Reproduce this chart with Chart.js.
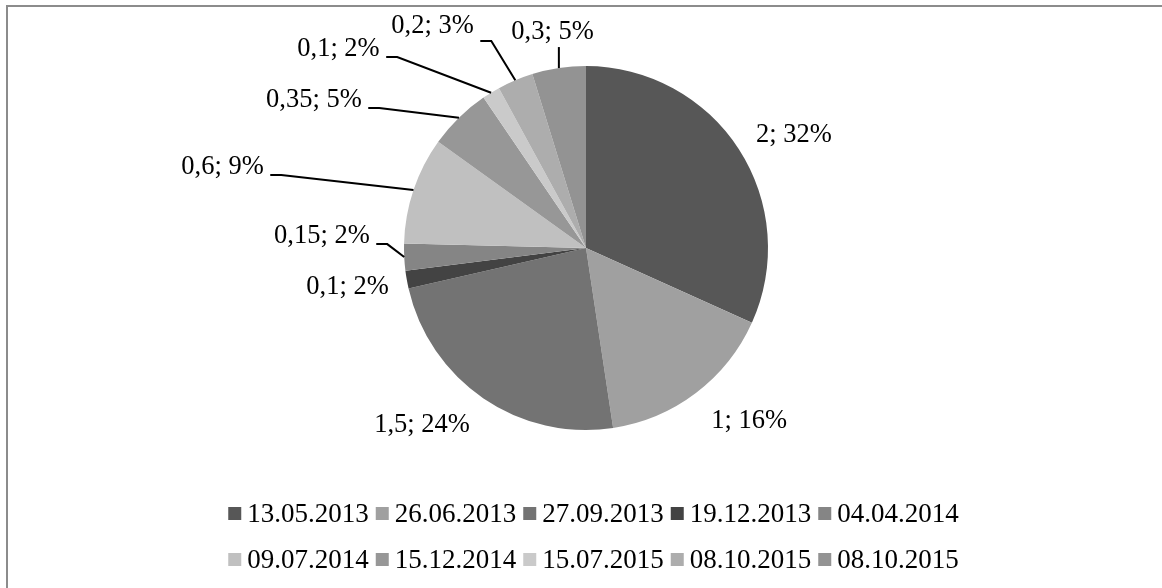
<!DOCTYPE html>
<html><head><meta charset="utf-8">
<script src="https://cdn.jsdelivr.net/npm/chart.js@4/dist/chart.umd.min.js"></script>
<style>
html,body{margin:0;padding:0;background:#fff;overflow:hidden;width:1162px;height:588px;}
#frame{position:absolute;left:6px;top:5px;width:1220px;height:640px;border:2px solid #8c8c8c;box-sizing:border-box;}
#wrap{position:absolute;left:0;top:0;width:1162px;height:588px;}
</style></head><body>
<div id="frame"></div>
<div id="wrap"><canvas id="c" width="1162" height="588"></canvas></div>
<script>
// ---- data ----
const categories = ['13.05.2013','26.06.2013','27.09.2013','19.12.2013','04.04.2014',
                    '09.07.2014','15.12.2014','15.07.2015','08.10.2015','08.10.2015'];
const values = [2, 1, 1.5, 0.1, 0.15, 0.6, 0.35, 0.1, 0.2, 0.3];
const percentLabels = ['32%','16%','24%','2%','2%','9%','5%','2%','3%','5%'];

// ---- styling / layout (not data) ----
const sliceColors = ['#575757','#a0a0a0','#737373','#434343','#858585',
                     '#c0c0c0','#979797','#cacaca','#adadad','#939393'];
// label centre (x) and baseline (y) relative to pie centre, in radius units
const labelPlacement = [[1.143,-0.582],[0.896,0.989],[-0.901,1.011],[-1.310,0.253],[-1.451,-0.027],
                        [-1.997,-0.407],[-1.495,-0.775],[-1.360,-1.055],[-0.843,-1.181],[-0.184,-1.148]];
// 0 none, 1 elbow at baseline, 2 elbow at box bottom, 3 vertical down
const leaderKind = [0,0,0,0,1,1,1,1,2,3];
const LABEL_FONT = '26.5px "Liberation Serif", "Times New Roman", serif';
const LEGEND_FONT = '27px "Liberation Serif", "Times New Roman", serif';

const fmt = v => String(v).replace('.', ',');

const labelPlugin = {
  id: 'sliceLabels',
  afterDatasetsDraw(chart) {
    const ctx = chart.ctx;
    const meta = chart.getDatasetMeta(0);
    ctx.save();
    ctx.font = LABEL_FONT;
    ctx.fillStyle = '#000';
    ctx.strokeStyle = '#000';
    ctx.lineWidth = 2;
    ctx.textAlign = 'center';
    ctx.textBaseline = 'alphabetic';
    meta.data.forEach((arc, i) => {
      const p = arc.getProps(['x','y','startAngle','endAngle','outerRadius'], true);
      const mid = (p.startAngle + p.endAngle) / 2;
      const px = p.x + Math.cos(mid) * p.outerRadius;
      const py = p.y + Math.sin(mid) * p.outerRadius;
      const text = fmt(values[i]) + '; ' + percentLabels[i];
      const tx = p.x + labelPlacement[i][0] * p.outerRadius;
      const ty = p.y + labelPlacement[i][1] * p.outerRadius;
      ctx.fillText(text, tx, ty);
      const w = ctx.measureText(text).width;
      const k = leaderKind[i];
      if (k === 1 || k === 2) {
        const sx = tx + w / 2 + 6.5;
        const sy = ty + (k === 1 ? 1 : 8);
        ctx.beginPath();
        ctx.moveTo(sx, sy);
        ctx.lineTo(sx + 11, sy);
        ctx.lineTo(px, py);
        ctx.stroke();
      } else if (k === 3) {
        ctx.beginPath();
        ctx.moveTo(px, ty + 8);
        ctx.lineTo(px, py);
        ctx.stroke();
      }
    });
    ctx.restore();
  }
};

const legendPlugin = {
  id: 'rowLegend',
  afterDraw(chart) {
    const ctx = chart.ctx;
    const items = chart.options.plugins.legend.labels.generateLabels(chart);
    const perRow = 5, box = 13, gapBox = 6, gapItem = 7, centerX = 593.5;
    const baselines = [522, 568];
    ctx.save();
    ctx.font = LEGEND_FONT;
    ctx.textAlign = 'left';
    ctx.textBaseline = 'alphabetic';
    for (let r = 0; r * perRow < items.length; r++) {
      const row = items.slice(r * perRow, r * perRow + perRow);
      const widths = row.map(it => box + gapBox + ctx.measureText(it.text).width);
      const total = widths.reduce((a, b) => a + b, 0) + gapItem * (row.length - 1);
      let x = centerX - total / 2;
      const bl = baselines[r];
      row.forEach((it, j) => {
        ctx.fillStyle = it.fillStyle;
        ctx.fillRect(x, bl - 15, box, box);
        ctx.fillStyle = '#000';
        ctx.fillText(it.text, x + box + gapBox, bl);
        x += widths[j] + gapItem;
      });
    }
    ctx.restore();
  }
};

new Chart(document.getElementById('c'), {
  type: 'pie',
  data: {
    labels: categories,
    datasets: [{ data: values, backgroundColor: sliceColors, borderWidth: 0 }]
  },
  options: {
    responsive: false,
    animation: false,
    layout: { padding: { top: 66, bottom: 158, left: 10, right: 0 } },
    plugins: { legend: { display: false }, tooltip: { enabled: false } }
  },
  plugins: [labelPlugin, legendPlugin]
});
</script>
</body></html>
